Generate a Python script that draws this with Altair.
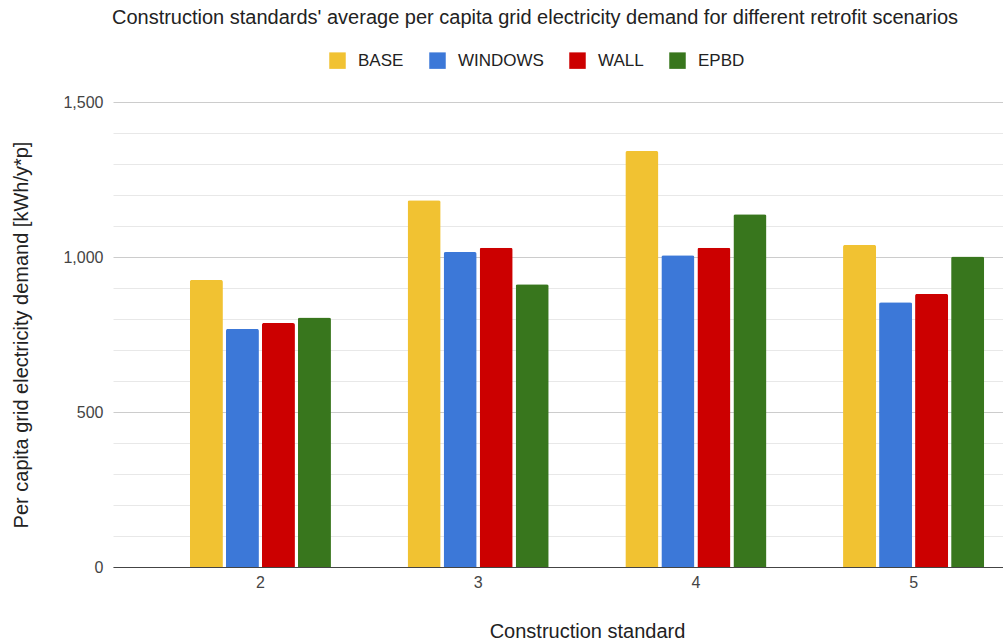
import altair as alt
import pandas as pd

# Average per capita grid electricity demand (kWh/y*p) by construction standard
standards = ["2", "3", "4", "5"]
scenarios = ["BASE", "WINDOWS", "WALL", "EPBD"]
base = [926, 1183, 1342, 1039]
windows = [768, 1016, 1006, 854]
wall = [787, 1030, 1030, 881]
epbd = [805, 912, 1138, 1002]
colors = ["#f1c232", "#3c78d8", "#cc0000", "#38761d"]

series = {"BASE": base, "WINDOWS": windows, "WALL": wall, "EPBD": epbd}
rows = [
    {"standard": s, "scenario": name, "demand": vals[i]}
    for name, vals in series.items()
    for i, s in enumerate(standards)
]
df = pd.DataFrame(rows)

FONT = "Liberation Sans"

chart = (
    alt.Chart(df)
    .mark_bar(cornerRadiusTopLeft=2, cornerRadiusTopRight=2)
    .encode(
        x=alt.X(
            "standard:N",
            sort=standards,
            title="Construction standard",
            scale=alt.Scale(range=[0, 948], paddingInner=0.352, paddingOuter=0.353),
            axis=alt.Axis(
                labelAngle=0,
                ticks=False,
                tickSize=0,
                domainColor="#444444",
                domainWidth=1,
                labelPadding=7,
                titlePadding=31,
                grid=False,
            ),
        ),
        xOffset=alt.XOffset(
            "scenario:N",
            sort=scenarios,
            scale=alt.Scale(paddingInner=0.083, paddingOuter=0),
        ),
        y=alt.Y(
            "demand:Q",
            title="Per capita grid electricity demand [kWh/y*p]",
            scale=alt.Scale(domain=[0, 1500], nice=False),
            axis=alt.Axis(
                values=list(range(0, 1501, 100)),
                labelExpr="datum.value % 500 === 0 ? format(datum.value, ',') : ''",
                ticks=False,
                tickSize=0,
                domain=False,
                labelPadding=10,
                titlePadding=31,
                gridColor=alt.condition(
                    "datum.value % 500 === 0", alt.value("#cccccc"), alt.value("#e8e8e8")
                ),
            ),
        ),
        color=alt.Color(
            "scenario:N",
            sort=scenarios,
            scale=alt.Scale(domain=scenarios, range=colors),
            legend=alt.Legend(
                title=None,
                orient="none",
                direction="horizontal",
                legendX=216,
                legendY=-50,
                symbolType="square",
                symbolSize=272,
                symbolStrokeWidth=0,
                symbolOpacity=1,
                labelFontSize=17,
                labelOffset=12,
                columnPadding=25,
                padding=0,
            ),
        ),
    )
    .properties(
        width=890,
        height=465,
        autosize=alt.AutoSizeParams(type="none"),
        padding={"left": 113, "top": 102, "right": 0, "bottom": 77},
        title=alt.TitleParams(
            "Construction standards' average per capita grid electricity demand for different retrofit scenarios",
            fontSize=20,
            fontWeight="normal",
            color="#222222",
            anchor="middle",
            dx=-23,
            offset=24,
        ),
    )
    .configure(font=FONT)
    .configure_view(stroke=None)
    .configure_axis(
        labelFont=FONT,
        titleFont=FONT,
        labelFontSize=16,
        titleFontSize=20,
        titleFontWeight="normal",
        labelColor="#444444",
        titleColor="#222222",
    )
    .configure_legend(labelFont=FONT, labelColor="#222222")
    .configure_title(font=FONT)
)

chart.save("out.html", embed_options={"renderer": "svg", "actions": False})
